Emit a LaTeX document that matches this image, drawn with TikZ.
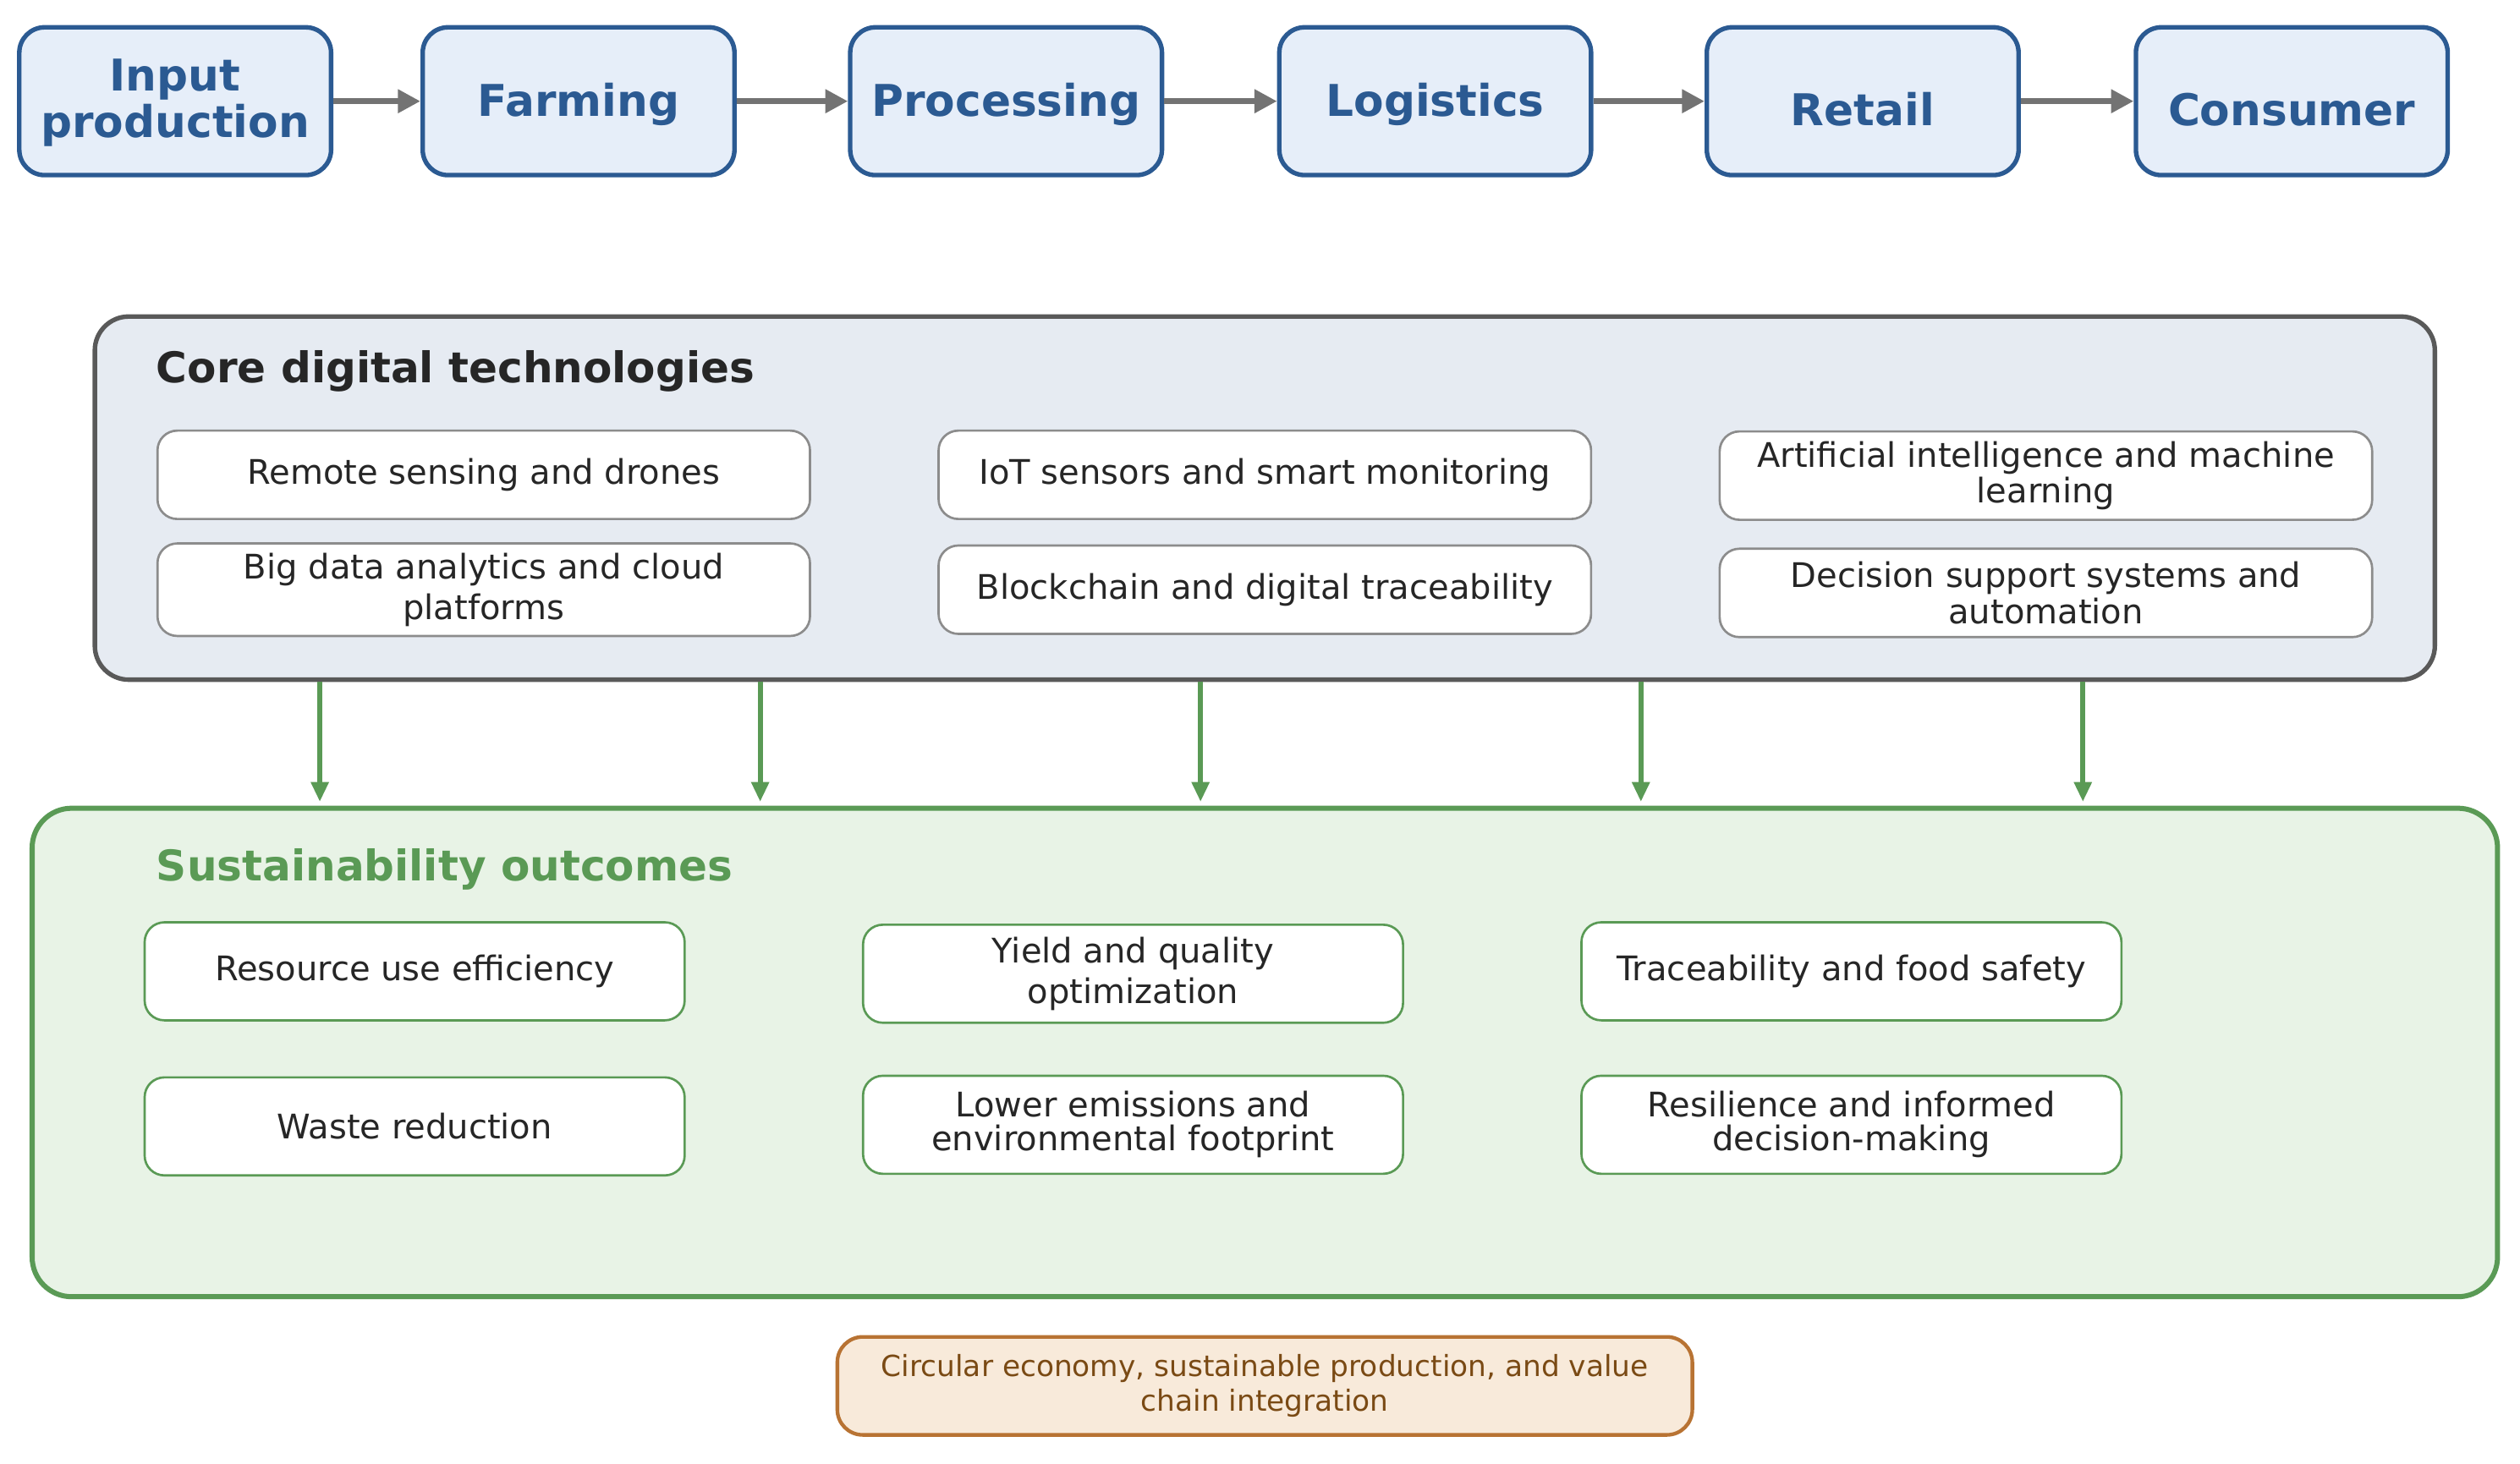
\documentclass[tikz,border=0pt]{standalone}
\usepackage{fontspec}
\setmainfont{DejaVu Sans}
\usetikzlibrary{arrows.meta}
\definecolor{pblue}{HTML}{2B5A92}
\definecolor{pfill}{HTML}{E6EEF9}
\definecolor{cfill}{HTML}{E6EBF2}
\definecolor{gline}{HTML}{5A9A55}
\definecolor{gfill}{HTML}{E8F3E6}
\definecolor{bfill}{HTML}{F8EADA}
\definecolor{bline}{HTML}{B87333}
\definecolor{btext}{HTML}{7A4A14}
\tikzset{
 stage/.style={draw=pblue,fill=pfill,line width=1.6pt,rounded corners=9pt,minimum width=194*0.02cm,minimum height=92*0.02cm,text=pblue,font=\bfseries\fontsize{15.5}{16.5}\selectfont,align=center,inner sep=2pt},
 flow/.style={draw=black!55,line width=2.2pt,-{Triangle[length=8pt,width=8pt]}},
 tech/.style={draw=black!45,fill=white,line width=0.8pt,rounded corners=7pt,minimum width=406*0.02cm,minimum height=55*0.02cm,align=center,font=\fontsize{12}{14.5}\selectfont,text=black!85},
 outc/.style={draw=gline,fill=white,line width=0.8pt,rounded corners=7pt,minimum width=336*0.02cm,minimum height=61*0.02cm,align=center,font=\fontsize{12}{14.5}\selectfont,text=black!85},
 garr/.style={draw=gline,line width=1.8pt,-{Triangle[length=7pt,width=6pt]}},
}
\begin{document}
\begin{tikzpicture}[x=0.02cm,y=-0.02cm]
\useasboundingbox (0,0) rectangle (1568,911);
\foreach \n/\x/\y/\t in {s1/109/63/Input\\production,s2/360/65/Farming,s3/626/65/Processing,s4/893/65/Logistics,s5/1159/68/Retail,s6/1426/68/Consumer}
  \node[stage,minimum height=0pt,draw=none,fill=none] (t\n) at (\x,\y) {\t};
\foreach \n/\x in {s1/109,s2/360,s3/626,s4/893,s5/1159,s6/1426}
  \node[stage] (\n) at (\x,63) {};
\foreach \n/\x/\y/\t in {s1/109/64/Input\\production,s2/360/65/Farming,s3/626/65/Processing,s4/893/65/Logistics,s5/1159/68/Retail,s6/1426/68/Consumer}
  \node[stage,minimum height=0pt,draw=none,fill=none] (l\n) at (\x,\y) {\t};
\foreach \a/\b in {s1/s2,s2/s3,s3/s4,s4/s5,s5/s6} \draw[flow] (\a) -- (\b);
% core box
\node[draw=black!65,fill=cfill,line width=1.6pt,rounded corners=12pt,minimum width=1456*0.02cm,minimum height=226*0.02cm,inner sep=0] (core) at (787,310) {};
\node[anchor=west,inner sep=0,font=\bfseries\fontsize{15}{15}\selectfont,text=black!85] (ct) at (97,231) {Core digital technologies};
\node[tech] (t1) at (301,295.5) {Remote sensing and drones};
\node[tech] (t2) at (787,295.5) {IoT sensors and smart monitoring};
\node[tech,font=\fontsize{12}{12.5}\selectfont] (t3) at (1273,296) {Artificial intelligence and machine\\learning};
\node[tech] (t4) at (301,367) {Big data analytics and cloud\\platforms};
\node[tech] (t5) at (787,367) {Blockchain and digital traceability};
\node[tech,font=\fontsize{12}{13}\selectfont] (t6) at (1273,369) {Decision support systems and\\automation};
% sustainability box
\node[draw=gline,fill=gfill,line width=1.8pt,rounded corners=14pt,minimum width=1534*0.02cm,minimum height=304*0.02cm,inner sep=0] (sus) at (787,655) {};
\node[anchor=west,inner sep=0,font=\bfseries\fontsize{15}{15}\selectfont,text=gline] (st) at (97,541) {Sustainability outcomes};
\foreach \x in {199,473,747,1021,1296} {
  \coordinate (a\x) at (\x,424); \coordinate (b\x) at (\x,499);
  \draw[garr] (a\x) -- (b\x);}
\node[outc] (o1) at (258,604.5) {Resource use efficiency};
\node[outc] (o2) at (705,606) {Yield and quality\\optimization};
\node[outc] (o3) at (1152,604.5) {Traceability and food safety};
\node[outc] (o4) at (258,701) {Waste reduction};
\node[outc,font=\fontsize{12}{12}\selectfont] (o5) at (705,700) {Lower emissions and\\environmental footprint};
\node[outc,font=\fontsize{12}{12}\selectfont] (o6) at (1152,700) {Resilience and informed\\decision-making};
\node[draw=bline,fill=bfill,line width=1.3pt,rounded corners=9pt,minimum width=532*0.02cm,minimum height=61*0.02cm,align=center,font=\fontsize{10.3}{12.5}\selectfont,text=btext] (circ) at (787,862.5) {Circular economy, sustainable production, and value\\chain integration};
\end{tikzpicture}
\end{document}
